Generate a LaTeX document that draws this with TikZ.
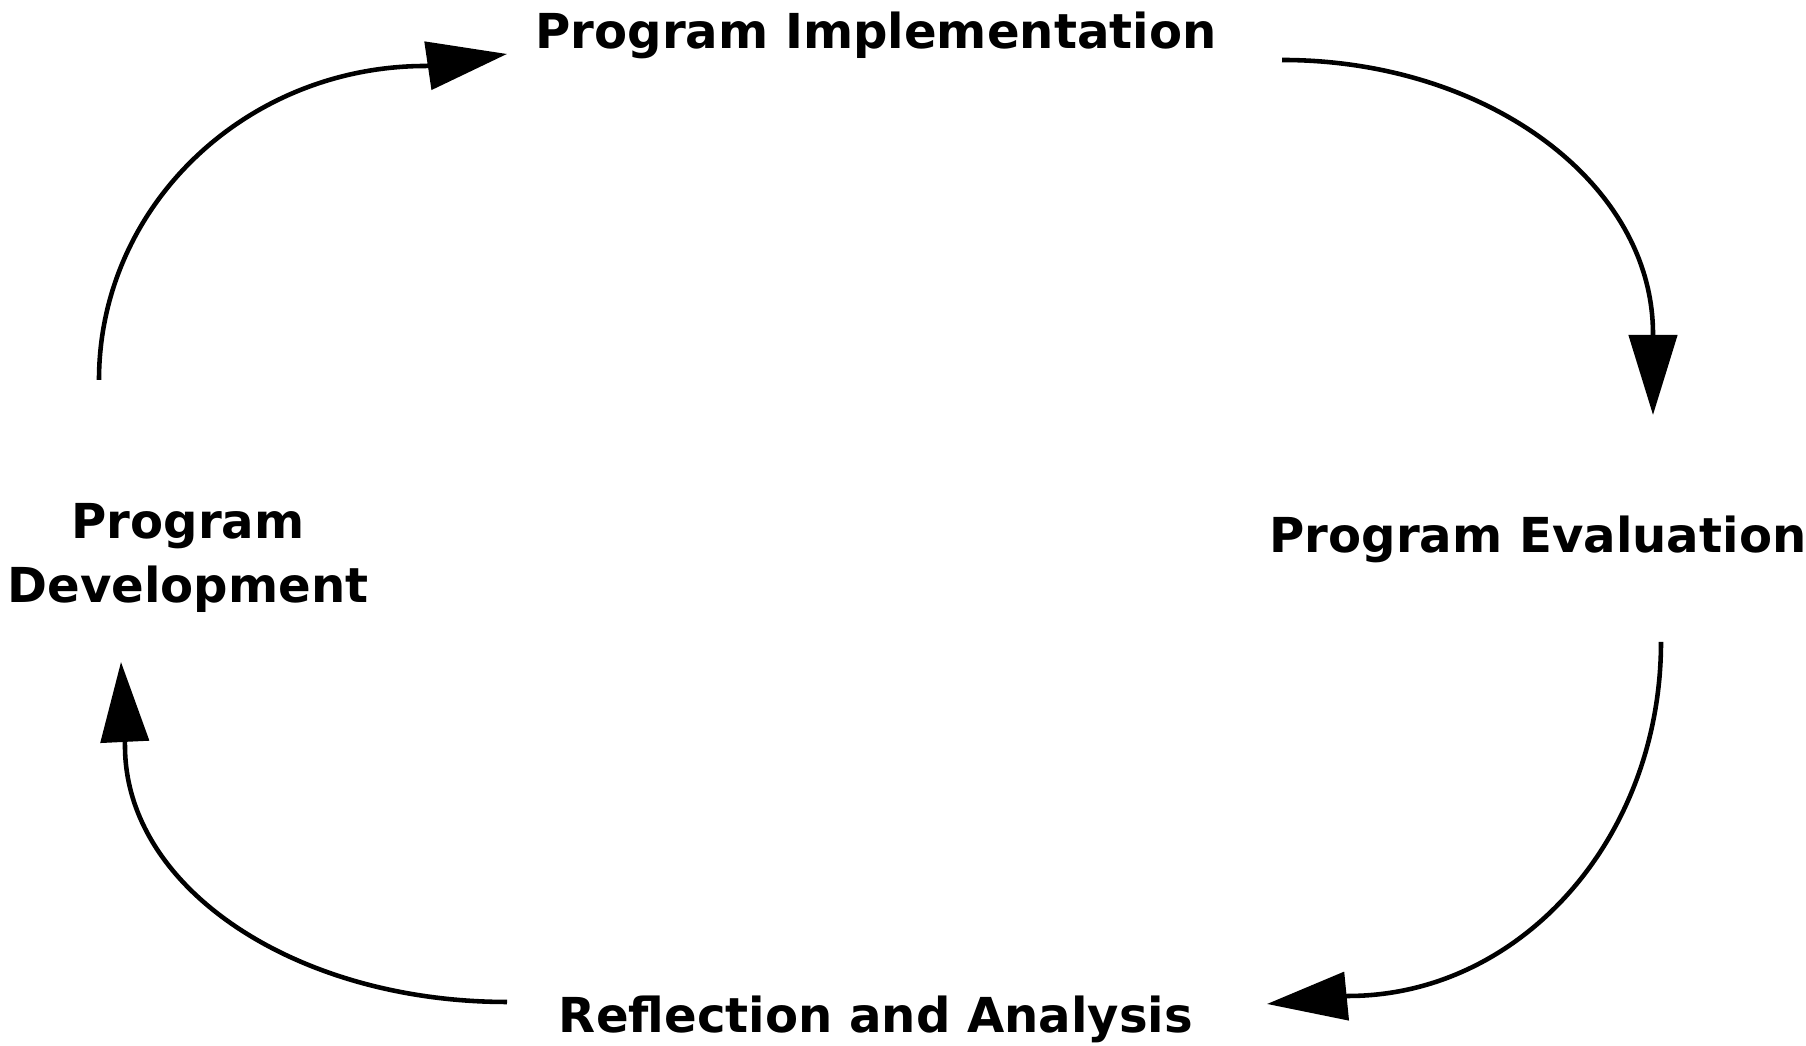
\documentclass[tikz,border=0pt]{standalone}
\usepackage{fontspec}
\setmainfont{DejaVu Sans}
\usetikzlibrary{arrows.meta, positioning}

\begin{document}
\begin{tikzpicture}[
    font=\bfseries\fontsize{13.7}{18.4}\selectfont,
    stage/.style={
        align=center,
        inner sep=0pt
    },
    cycle_arrow/.style={
        line width=1.3pt,
        -{Triangle[length=8mm, width=4.8mm]}
    }
]

    % Canvas
    \useasboundingbox (0,0) rectangle (18.06,10.46);

    % Stages of the cycle
    \node[stage] (impl) at (8.76, 10.11) {Program Implementation};
    \node[stage] (eval) at (15.38, 5.07) {Program Evaluation};
    \node[stage] (refl) at (8.76, 0.27) {Reflection and Analysis};
    \node[stage] (dev) at (1.88, 4.88) {Program\\Development};

    % Arc ends
    \coordinate (dev_out) at (0.99, 6.66);
    \coordinate (impl_in_base) at (4.26, 9.80);
    \coordinate (impl_in) at (5.07, 9.92);
    \coordinate (impl_out) at (12.82, 9.86);
    \coordinate (eval_in_base) at (16.53, 7.12);
    \coordinate (eval_in) at (16.53, 6.31);
    \coordinate (eval_out) at (16.61, 4.04);
    \coordinate (refl_in_base) at (13.48, 0.50);
    \coordinate (refl_in) at (12.67, 0.42);
    \coordinate (refl_out) at (5.07, 0.44);
    \coordinate (dev_in_base) at (1.25, 3.00);
    \coordinate (dev_in) at (1.21, 3.84);

    % Arrows
    \draw[cycle_arrow] (dev_out) .. controls +(0, 1.73) and +(-1.81, 0) .. (impl_in_base) -- (impl_in);
    \draw[cycle_arrow] (impl_out) .. controls +(2.05, 0) and +(0, 1.51) .. (eval_in_base) -- (eval_in);
    \draw[cycle_arrow] (eval_out) .. controls +(0, -1.96) and +(1.73, 0) .. (refl_in_base) -- (refl_in);
    \draw[cycle_arrow] (refl_out) .. controls +(-2.10, 0) and +(0, -1.43) .. (dev_in_base) -- (dev_in);

\end{tikzpicture}
\end{document}
